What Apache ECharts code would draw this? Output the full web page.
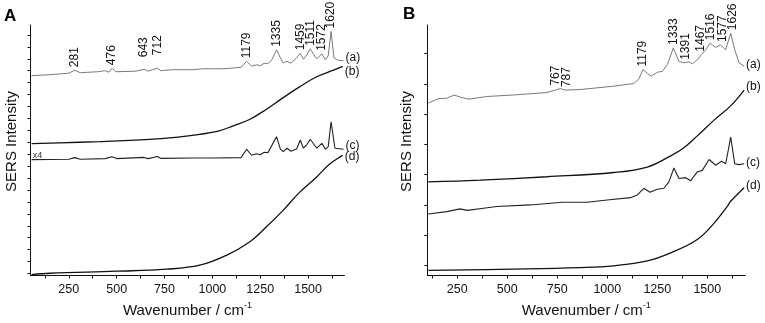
<!DOCTYPE html>
<html><head><meta charset="utf-8">
<script src="https://cdn.jsdelivr.net/npm/echarts@6/dist/echarts.min.js"></script>
<style>html,body{margin:0;padding:0;background:#fff}#c{width:765px;height:323px}</style>
</head><body><div id="c"></div>
<script>
// ---------- data ----------
const xTicks = [125,250,375,500,625,750,875,1000,1125,1250,1375,1500,1625];
const xTickLabels = [250,500,750,1000,1250,1500];
const yTicksA = Array.from({length:21},(_,k)=>0.17+k);
const yTicksB = Array.from({length:8},(_,k)=>0.33+k);

// Panel A spectra [wavenumber, intensity (a.u.)]
const A_a = [[55,16.75],[150,16.83],[250,16.96],[281,17.21],[310,17.0],[400,17.08],[440,17.17],[460,17.04],[476,17.38],[495,17.08],[600,17.13],[643,17.29],[665,17.13],[712,17.38],[730,17.17],[790,17.25],[900,17.25],[950,17.33],[1000,17.33],[1050,17.33],[1100,17.38],[1150,17.46],[1179,17.96],[1205,17.54],[1230,17.67],[1250,17.58],[1270,17.79],[1290,17.75],[1310,18.08],[1335,18.92],[1355,18.25],[1370,17.83],[1390,17.96],[1410,17.79],[1440,18.25],[1459,18.63],[1475,18.13],[1490,18.42],[1511,19.0],[1530,18.5],[1545,18.17],[1572,18.58],[1590,18.08],[1605,18.42],[1620,20.46],[1635,18.25],[1655,18.04],[1685,18.0]];
const A_b = [[56,11.06],[200,11.12],[412,11.23],[673,11.42],[820,11.6],[934,11.83],[1030,12.1],[1106,12.53],[1194,13.08],[1281,13.92],[1368,14.89],[1455,15.81],[1542,16.64],[1629,17.19],[1681,17.53]];
const A_c = [[56,9.71],[250,9.75],[281,9.88],[310,9.75],[440,9.8],[476,9.96],[500,9.8],[643,9.9],[665,9.8],[712,9.97],[730,9.82],[900,9.85],[1000,9.85],[1150,9.88],[1179,10.58],[1205,10.08],[1230,10.21],[1250,10.12],[1270,10.33],[1290,10.3],[1335,11.64],[1355,10.6],[1370,10.38],[1390,10.67],[1410,10.42],[1440,10.6],[1459,11.36],[1475,10.67],[1490,10.9],[1511,11.42],[1545,10.67],[1572,11.08],[1590,10.58],[1605,10.8],[1620,12.89],[1640,10.67],[1685,10.58]];
const A_d = [[56,0.08],[152,0.19],[499,0.36],[760,0.53],[934,0.86],[1073,1.69],[1194,2.81],[1281,4.06],[1368,5.44],[1455,6.97],[1542,8.22],[1611,9.33],[1681,10.08]];

// Panel B spectra
const B_a = [[105,5.69],[155,5.84],[197,5.85],[234,5.96],[264,5.89],[306,5.82],[398,5.91],[531,5.96],[698,6.04],[765,6.17],[790,6.12],[865,6.14],[1032,6.25],[1133,6.34],[1158,6.49],[1178,6.80],[1200,6.67],[1220,6.58],[1250,6.71],[1275,6.74],[1300,6.96],[1330,7.51],[1358,7.07],[1383,7.02],[1408,7.05],[1425,6.99],[1450,7.12],[1470,7.29],[1492,7.45],[1514,7.67],[1542,7.53],[1567,7.61],[1592,7.45],[1617,8.0],[1637,7.45],[1659,7.02],[1684,6.91]];
const B_b = [[105,3.09],[364,3.15],[698,3.26],[1032,3.40],[1200,3.58],[1317,3.95],[1383,4.22],[1450,4.61],[1534,5.13],[1617,5.60],[1684,6.12]];
const B_c = [[105,2.03],[197,2.11],[264,2.20],[299,2.15],[381,2.22],[448,2.28],[615,2.33],[774,2.42],[899,2.42],[999,2.49],[1116,2.57],[1150,2.66],[1183,2.88],[1213,2.75],[1250,2.85],[1283,2.88],[1308,3.09],[1333,3.55],[1358,3.20],[1392,3.23],[1417,3.13],[1450,3.42],[1475,3.47],[1509,3.83],[1542,3.64],[1571,3.77],[1592,3.69],[1617,4.57],[1637,3.69],[1659,3.66],[1684,3.69]];
const B_d = [[105,0.17],[531,0.21],[865,0.26],[1032,0.32],[1200,0.48],[1317,0.75],[1450,1.19],[1534,1.73],[1601,2.29],[1617,2.45],[1684,2.90]];

const peaksA = [281,476,643,712,1179,1335,1459,1511,1572,1620];
const peaksB = [767,787,1179,1333,1391,1467,1516,1577,1626];
const curveTags = ['(a)','(b)','(c)','(d)'];

// ---------- style ----------
const FONT = '"Liberation Sans", Arial, Helvetica, sans-serif';
const GRAY = '#7a7a7a';
const chart = echarts.init(document.getElementById('c'), null, {renderer:'canvas'});

function xAxis(gi, min){
  return {gridIndex:gi, type:'value', min:min, max:1690,
    axisLine:{show:true, onZero:false, lineStyle:{color:'#111', width:1}},
    axisTick:{show:true, customValues:xTicks, length:3, inside:false, lineStyle:{color:'#111'}},
    axisLabel:{show:true, customValues:xTickLabels, formatter:v=>String(v), color:'#111', fontSize:12.5, fontFamily:FONT, margin:8},
    splitLine:{show:false},
    name:'{n|Wavenumber / cm}{s|-1}', nameLocation:'middle', nameGap:26,
    nameTextStyle:{rich:{n:{fontSize:15, fontFamily:FONT, color:'#111', lineHeight:18}, s:{fontSize:9, fontFamily:FONT, color:'#111', verticalAlign:'top', lineHeight:10}}}
  };
}
function yAxis(gi, max, ticks){
  return {gridIndex:gi, type:'value', min:0, max:max,
    axisLine:{show:true, onZero:false, lineStyle:{color:'#111', width:1}},
    axisTick:{show:true, customValues:ticks, length:3, lineStyle:{color:'#111'}},
    axisLabel:{show:false}, splitLine:{show:false}};
}
function line(name, gi, data, color, width, smooth){
  return {name:name, type:'line', xAxisIndex:gi, yAxisIndex:gi, data:data, showSymbol:false, symbol:'none',
    smooth:smooth, lineStyle:{color:color, width:width}, silent:true, animation:false, z:3};
}

chart.setOption({
  animation:false,
  backgroundColor:'#fff',
  grid:[{left:30.5, top:25, width:314, height:252}, {left:427.3, top:25, width:318, height:253}],
  xAxis:[xAxis(0,50), xAxis(1,100)],
  yAxis:[yAxis(0,21,yTicksA), yAxis(1,8.27,yTicksB)],
  series:[
    line('A_a',0,A_a,GRAY,1,false),
    line('A_b',0,A_b,'#111',1.3,0.4),
    line('A_c',0,A_c,'#222',1.1,false),
    line('A_d',0,A_d,'#111',1.3,0.4),
    line('B_a',1,B_a,GRAY,1,false),
    line('B_b',1,B_b,'#111',1.3,0.4),
    line('B_c',1,B_c,'#222',1.1,false),
    line('B_d',1,B_d,'#111',1.3,0.4)
  ]
});

// ---------- annotations (positions derived from data via the axes) ----------
function peakVal(data, w){
  let best=null;
  data.forEach(p=>{ if(Math.abs(p[0]-w)<=15 && (best===null || p[1]>best)) best=p[1]; });
  if(best===null){ let n=data.reduce((a,p)=>Math.abs(p[0]-w)<Math.abs(a[0]-w)?p:a); best=n[1]; }
  return best;
}
const liftA = {643:12, 712:13};
const dxB = {767:-5, 787:2};
const g = [];
function peakLabels(gi, data, peaks, lift, dx){
  peaks.forEach(w=>{
    const p = chart.convertToPixel({gridIndex:gi}, [w, peakVal(data,w)]);
    g.push({type:'text', x:p[0]+((dx&&dx[w])||0), y:p[1]-((lift&&lift[w])||3), rotation:Math.PI/2, silent:true,
      style:{text:String(w), font:'12px '+FONT, fill:'#111', align:'left', verticalAlign:'middle'}});
  });
}
peakLabels(0, A_a, peaksA, liftA, null);
peakLabels(1, B_a, peaksB, null, dxB);
// curve tags at right ends
const tagOffA = [-3, 5, -4, 1];
const tagOffB = [-2, -3, -1, -2];
[[A_a,A_b,A_c,A_d],[B_a,B_b,B_c,B_d]].forEach((set,gi)=>{
  set.forEach((d,i)=>{
    const last = d[d.length-1];
    const p = chart.convertToPixel({gridIndex:gi}, last);
    const off = gi===0?tagOffA[i]:tagOffB[i];
    g.push({type:'text', x:p[0]+2, y:p[1]+off, silent:true,
      style:{text:curveTags[i], font:'12px '+FONT, fill:'#111', align:'left', verticalAlign:'middle'}});
  });
});
// x4 marker on A(c)
const pc = chart.convertToPixel({gridIndex:0}, A_c[0]);
g.push({type:'text', x:pc[0]+1, y:pc[1]+0.5, silent:true, style:{text:'x4', font:'9px '+FONT, fill:'#333', align:'left', verticalAlign:'bottom'}});
// y axis names
[[0,12],[1,407]].forEach(([gi,x])=>{
  g.push({type:'text', x:x, y:141.5, rotation:Math.PI/2, silent:true,
    style:{text:'SERS Intensity', font:'15px '+FONT, fill:'#111', align:'center', verticalAlign:'middle'}});
});
// panel letters
g.push({type:'text', x:4, y:16, silent:true, style:{text:'A', font:'bold 17px '+FONT, fill:'#000', align:'left', verticalAlign:'middle'}});
g.push({type:'text', x:403, y:14, silent:true, style:{text:'B', font:'bold 17px '+FONT, fill:'#000', align:'left', verticalAlign:'middle'}});
chart.setOption({graphic:g});
</script>
</body></html>
